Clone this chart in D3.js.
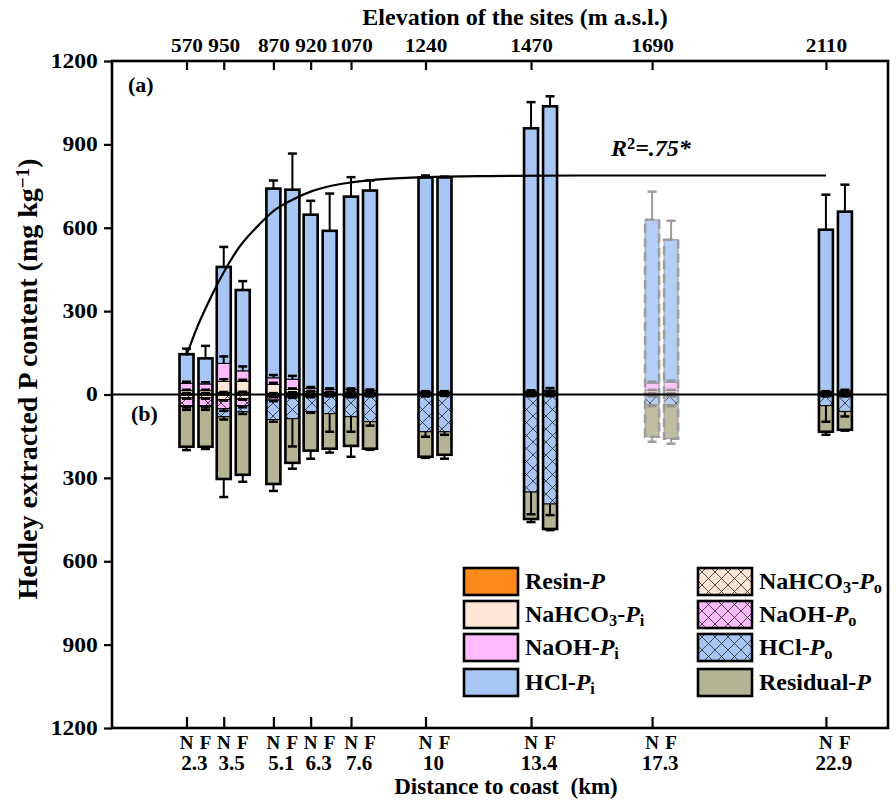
<!DOCTYPE html>
<html>
<head>
<meta charset="utf-8">
<script src="https://cdn.jsdelivr.net/npm/d3@7"></script>
<style>
body { margin: 0; background: #fff; }
text { font-family: "Liberation Serif", "Times New Roman", serif; font-weight: bold; fill: #000; }
</style>
</head>
<body>
<svg id="chart" width="896" height="800"></svg>
<script>
// sites along the transect
var distanceKm = [2.3, 3.5, 5.1, 6.3, 7.6, 10, 13.4, 17.3, 22.9];
var distanceLabels = ["2.3", "3.5", "5.1", "6.3", "7.6", "10", "13.4", "17.3", "22.9"];
var elevations = [570, 950, 870, 920, 1070, 1240, 1470, 1690, 2110];
var treatments = ["N", "F"];
var fadedSite = "17.3";
var yTicks = [-1200, -900, -600, -300, 0, 300, 600, 900, 1200];

// one value per bar, site by site, N then F (mg kg-1)
var resinP     = [4, 4, 7, 8, 4, 6, 3, 3, 3, 3, 3, 3, 3, 5, 4, 4, 3, 4];
var nahco3Pi   = [10, 10, 40, 39, 32, 12, 7, 5, 6, 5, 4, 4, 4, 5, 10, 10, 4, 5];
var naohPi     = [26, 24, 65, 38, 24, 37, 12, 10, 9, 6, 3, 3, 5, 5, 26, 30, 3, 5];
var hclPi      = [105, 92, 347, 291, 681, 682, 625, 571, 694, 720, 771, 771, 946, 1022, 589, 513, 583, 644];
var nahco3Po   = [12, 12, 18, 15, 8, 5, 4, 3, 4, 3, 3, 2, 2, 2, 3, 3, 3, 3];
var naohPo     = [28, 28, 33, 25, 12, 5, 4, 3, 4, 3, 3, 2, 3, 3, 3, 3, 3, 3];
var hclPo      = [3, 3, 29, 22, 70, 77, 53, 63, 72, 92, 128, 130, 346, 389, 30, 30, 34, 55];
var residualP  = [145, 145, 224, 227, 232, 159, 141, 126, 105, 97, 90, 83, 97, 90, 116, 123, 94, 66];

// standard errors drawn at each fraction's boundary
var resinErr    = [1, 1, 2, 2, 1, 2, 1, 1, 1, 1, 1, 1, 1, 1, 1, 1, 1, 1];
var nahco3PiErr = [3, 3, 8, 6, 6, 4, 3, 2, 3, 2, 2, 2, 2, 2, 3, 3, 2, 2];
var naohPiErr   = [6, 6, 25, 16, 10, 12, 5, 4, 4, 4, 2, 2, 3, 8, 6, 6, 2, 3];
var hclPiErr    = [20, 45, 72, 32, 29, 130, 50, 134, 70, 36, 7, 3, 94, 36, 101, 68, 126, 97];
var nahco3PoErr = [3, 3, 4, 4, 2, 2, 2, 1, 2, 1, 1, 1, 1, 1, 1, 1, 1, 1];
var naohPoErr   = [6, 6, 8, 6, 4, 2, 2, 1, 2, 1, 1, 1, 1, 1, 1, 1, 1, 1];
var hclPoErr    = [12, 12, 10, 8, 8, 100, 5, 65, 54, 14, 18, 11, 80, 40, 6, 6, 58, 18];
var residualErr = [12, 8, 65, 25, 25, 21, 29, 14, 39, 4, 4, 14, 11, 4, 18, 18, 11, 3];

// fitted curve of total inorganic P (km, mg kg-1)
var curveKm  = [2.3, 2.6, 3.0, 3.5, 4.0, 4.5, 5.1, 5.7, 6.3, 7.0, 7.6, 8.5, 10, 12, 15, 19, 22.9];
var curveVal = [140, 230, 330, 440, 530, 595, 660, 700, 730, 752, 763, 774, 782, 786, 788, 788, 788];

var svg = d3.select("#chart");
var plotL = 112, plotR = 888, plotT = 61, plotB = 728;
var barW = 14;

var x = d3.scaleLinear().domain([-0.1, 24.9]).range([plotL, plotR]);
var y = d3.scaleLinear().domain([-1200, 1200]).range([plotB, plotT]);
var offset = d3.scaleOrdinal().domain(treatments).range([0, 19]);

var colors = {
    resin: "#ff8a1c",
    nahco3: "#ffe6d6",
    naoh: "#ffbbfd",
    hcl: "#a8c6f4",
    residual: "#b4b394"
};

// cross hatch patterns
var defs = svg.append("defs");
function hatch(id, bg) {
    var p = defs.append("pattern").attr("id", id)
        .attr("patternUnits", "userSpaceOnUse")
        .attr("width", 13).attr("height", 13);
    p.append("rect").attr("width", 13).attr("height", 13).attr("fill", bg);
    p.append("path").attr("d", "M0,0L13,13M13,0L0,13M-1,12L1,14M12,-1L14,1")
        .attr("stroke", "#222").attr("stroke-width", 0.8);
}
hatch("h-nahco3", colors.nahco3);
hatch("h-naoh", colors.naoh);
hatch("h-hcl", colors.hcl);

var upper = [
    {values: resinP, err: resinErr, fill: colors.resin},
    {values: nahco3Pi, err: nahco3PiErr, fill: colors.nahco3},
    {values: naohPi, err: naohPiErr, fill: colors.naoh},
    {values: hclPi, err: hclPiErr, fill: colors.hcl}
];
var lower = [
    {values: nahco3Po, err: nahco3PoErr, fill: "url(#h-nahco3)"},
    {values: naohPo, err: naohPoErr, fill: "url(#h-naoh)"},
    {values: hclPo, err: hclPoErr, fill: "url(#h-hcl)"},
    {values: residualP, err: residualErr, fill: colors.residual}
];

var bars = [];
distanceKm.forEach(function(km, i) {
    treatments.forEach(function(t, j) {
        bars.push({km: km, trt: t, idx: i * 2 + j, faded: distanceLabels[i] === fadedSite});
    });
});

var gBars = svg.append("g");
var gErr = svg.append("g");

function drawStack(b, fractions, sign) {
    var cx = x(b.km) + offset(b.trt);
    var stroke = b.faded ? "#8c8c8c" : "#000";
    var g = gBars.append("g").attr("opacity", b.faded ? 0.85 : 1);
    var cum = 0;
    fractions.forEach(function(f) {
        var v = f.values[b.idx];
        var y0 = y(sign * cum), y1 = y(sign * (cum + v));
        g.append("rect")
            .attr("x", cx - barW / 2)
            .attr("width", barW)
            .attr("y", Math.min(y0, y1))
            .attr("height", Math.abs(y1 - y0))
            .attr("fill", f.fill)
            .attr("stroke", stroke)
            .attr("stroke-width", 1);
        cum += v;
        var e0 = y(sign * cum), e1 = y(sign * (cum + f.err[b.idx]));
        var eg = gErr.append("g").attr("stroke", stroke).attr("opacity", b.faded ? 0.85 : 1);
        eg.append("line").attr("x1", cx).attr("x2", cx).attr("y1", e0).attr("y2", e1)
            .attr("stroke-width", 2);
        eg.append("line").attr("x1", cx - 4.5).attr("x2", cx + 4.5).attr("y1", e1).attr("y2", e1)
            .attr("stroke-width", 2.5);
    });
    g.append("rect")
        .attr("x", cx - barW / 2)
        .attr("width", barW)
        .attr("y", Math.min(y(0), y(sign * cum)))
        .attr("height", Math.abs(y(sign * cum) - y(0)))
        .attr("fill", "none")
        .attr("stroke", stroke)
        .attr("stroke-width", 2.6)
        .attr("stroke-dasharray", b.faded ? "9,5" : null);
}

bars.forEach(function(b) {
    drawStack(b, upper, 1);
    drawStack(b, lower, -1);
});

// zero line
svg.append("line")
    .attr("x1", plotL).attr("x2", plotR)
    .attr("y1", y(0)).attr("y2", y(0))
    .attr("stroke", "#000").attr("stroke-width", 2);

// fitted curve
var line = d3.line()
    .x(function(d) { return x(d[0]); })
    .y(function(d) { return y(d[1]); })
    .curve(d3.curveMonotoneX);
svg.append("path")
    .datum(curveKm.map(function(k, i) { return [k, curveVal[i]]; }))
    .attr("d", line)
    .attr("fill", "none")
    .attr("stroke", "#000")
    .attr("stroke-width", 2.2);

// axes
var yAxis = svg.append("g")
    .attr("transform", "translate(" + plotL + ",0)")
    .call(d3.axisLeft(y).tickValues(yTicks).tickSize(8).tickPadding(4)
        .tickFormat(function(d) { return Math.abs(d); }));
yAxis.selectAll("text").style("font-size", "20px").attr("transform", "scale(1.18,1)");

var topAxis = svg.append("g")
    .attr("transform", "translate(0," + plotT + ")")
    .call(d3.axisTop(x).tickValues(distanceKm).tickSize(-9).tickPadding(9)
        .tickFormat(function(d, i) { return elevations[i]; }));
topAxis.selectAll("text").style("font-size", "19px").attr("transform", "scale(1.12,1)");

var bottomAxis = svg.append("g")
    .attr("transform", "translate(0," + plotB + ")")
    .call(d3.axisBottom(x).tickValues(distanceKm).tickSize(-11).tickFormat(""));

[yAxis, topAxis, bottomAxis].forEach(function(a) {
    a.select(".domain").remove();
    a.selectAll("line").attr("stroke-width", 2.2);
});

// frame
svg.append("rect")
    .attr("x", plotL).attr("y", plotT)
    .attr("width", plotR - plotL).attr("height", plotB - plotT)
    .attr("fill", "none").attr("stroke", "#000").attr("stroke-width", 2.6);

// N / F and distance labels
distanceKm.forEach(function(km, i) {
    treatments.forEach(function(t) {
        svg.append("text")
            .attr("x", x(km) + offset(t)).attr("y", 749)
            .attr("text-anchor", "middle")
            .style("font-size", "19px")
            .text(t);
    });
    svg.append("text")
        .attr("x", x(km) + 8).attr("y", 770)
        .attr("text-anchor", "middle")
        .style("font-size", "21px")
        .text(distanceLabels[i]);
});

function rich(sel, parts) {
    parts.forEach(function(p) {
        var t = sel.append("tspan").text(p[0]);
        if (p[1] === "it") t.style("font-style", "italic");
        if (p[1] === "sub") t.attr("baseline-shift", "-28%").style("font-size", "68%");
        if (p[1] === "sup") t.attr("baseline-shift", "42%").style("font-size", "68%");
    });
    return sel;
}

// titles
svg.append("text")
    .attr("x", 515).attr("y", 25)
    .attr("text-anchor", "middle")
    .style("font-size", "24px")
    .text("Elevation of the sites (m a.s.l.)");
svg.append("text")
    .attr("x", 506).attr("y", 794)
    .attr("text-anchor", "middle")
    .style("font-size", "23px")
    .attr("xml:space", "preserve")
    .text("Distance to coast  (km)");
rich(svg.append("text")
    .attr("transform", "translate(37,379) rotate(-90)")
    .attr("text-anchor", "middle")
    .style("font-size", "28px"),
    [["Hedley extracted P content (mg kg", ""], ["\u22121", "sup"], [")", ""]]);

svg.append("text").attr("x", 128).attr("y", 92).style("font-size", "22px").text("(a)");
svg.append("text").attr("x", 131).attr("y", 421).style("font-size", "22px").text("(b)");

rich(svg.append("text").attr("x", 611).attr("y", 156).style("font-size", "24px"),
    [["R", "it"], ["2", "sup"], ["=.75*", "it"]]);

// legend
var legendItems = [
    {col: 0, row: 0, fill: colors.resin, parts: [["Resin-", ""], ["P", "it"]]},
    {col: 0, row: 1, fill: colors.nahco3, parts: [["NaHCO", ""], ["3", "sub"], ["-", ""], ["P", "it"], ["i", "sub"]]},
    {col: 0, row: 2, fill: colors.naoh, parts: [["NaOH-", ""], ["P", "it"], ["i", "sub"]]},
    {col: 0, row: 3, fill: colors.hcl, parts: [["HCl-", ""], ["P", "it"], ["i", "sub"]]},
    {col: 1, row: 0, fill: "url(#h-nahco3)", parts: [["NaHCO", ""], ["3", "sub"], ["-", ""], ["P", "it"], ["o", "sub"]]},
    {col: 1, row: 1, fill: "url(#h-naoh)", parts: [["NaOH-", ""], ["P", "it"], ["o", "sub"]]},
    {col: 1, row: 2, fill: "url(#h-hcl)", parts: [["HCl-", ""], ["P", "it"], ["o", "sub"]]},
    {col: 1, row: 3, fill: colors.residual, parts: [["Residual-", ""], ["P", "it"]]}
];
var legendX = [464, 698], legendY = [568, 601, 634, 669];
legendItems.forEach(function(it) {
    var lx = legendX[it.col], ly = legendY[it.row];
    svg.append("rect")
        .attr("x", lx).attr("y", ly).attr("width", 54).attr("height", 27)
        .attr("fill", it.fill).attr("stroke", "#000").attr("stroke-width", 2.6);
    rich(svg.append("text").attr("x", lx + 61).attr("y", ly + 21).style("font-size", "24px"), it.parts);
});
</script>
</body>
</html>
